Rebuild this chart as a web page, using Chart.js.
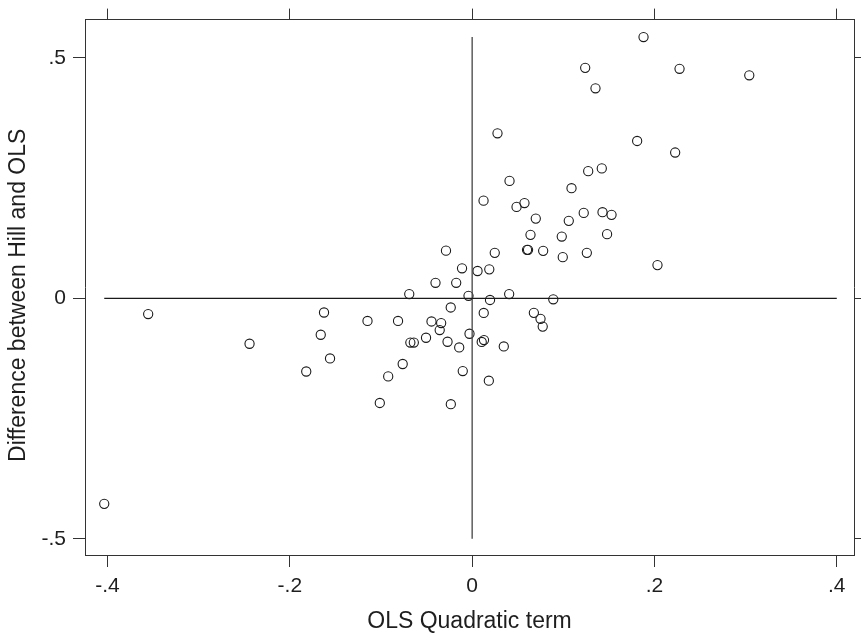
<!DOCTYPE html>
<html>
<head>
<meta charset="utf-8">
<script src="https://cdn.jsdelivr.net/npm/chart.js@4/dist/chart.umd.min.js"></script>
<style>
html,body{margin:0;padding:0;background:#ffffff;}
#wrap{width:861px;height:634px;position:relative;}
</style>
</head>
<body>
<div id="wrap"><canvas id="c" width="861" height="634"></canvas></div>
<script>
// ---- data ----
const xValues = [
  0.188, 0.124, 0.2275, 0.304, 0.1353, 0.0278, 0.181, 0.2227, 0.1422, 0.1273,
  0.041, 0.109, 0.0125, 0.0574, 0.0487, 0.1224, 0.143, 0.1529, 0.0698, 0.106,
  0.064, 0.0983, 0.148, -0.0287, 0.0248, 0.0602, 0.0613, 0.0779, 0.0994, 0.1258,
  0.2033, -0.0111, 0.0059, 0.0188, -0.0402, -0.0175, -0.069, -0.004, 0.0196, 0.0406,
  0.089, -0.3554, -0.1625, -0.0235, 0.0127, 0.0677, 0.075, 0.0774, -0.1148, -0.0813,
  -0.0446, -0.034, -0.0356, -0.1661, -0.0029, -0.0506, -0.0678, -0.064, -0.027, -0.0142,
  0.0105, 0.013, 0.0347, -0.2442, -0.1559, -0.182, -0.0762, -0.0921, -0.0103, 0.0183,
  -0.1013, -0.0234, -0.4036
];
const yValues = [
  0.543, 0.479, 0.477, 0.4635, 0.4365, 0.343, 0.327, 0.303, 0.270, 0.2643,
  0.244, 0.2288, 0.203, 0.198, 0.190, 0.1775, 0.179, 0.1734, 0.1657, 0.161,
  0.1319, 0.1283, 0.1333, 0.099, 0.0945, 0.1007, 0.1007, 0.0986, 0.0855, 0.0945,
  0.069, 0.0623, 0.0567, 0.0602, 0.0322, 0.0322, 0.0087, 0.0052, -0.0035, 0.0087,
  -0.0021, -0.0328, -0.0295, -0.0191, -0.0305, -0.0303, -0.0426, -0.0588, -0.0471, -0.0471,
  -0.0482, -0.0515, -0.066, -0.0758, -0.0737, -0.082, -0.092, -0.092, -0.0903, -0.1022,
  -0.0907, -0.0868, -0.1001, -0.0945, -0.125, -0.1522, -0.1366, -0.1624, -0.1512, -0.1713,
  -0.2176, -0.2201, -0.4273
];
// reference lines (y = 0 and x = 0)
const hLineX = [-0.4036, 0.4];
const vLineY = [-0.5, 0.543];

const xTicks = [-0.4, -0.2, 0, 0.2, 0.4];
const xTickLabels = ['-.4', '-.2', '0', '.2', '.4'];
const yTicks = [-0.5, 0, 0.5];
const yTickLabels = ['-.5', '0', '.5'];

const xTitle = 'OLS Quadratic term';
const yTitle = 'Difference between Hill and OLS';

// ---- presentation ----
const X_MIN = -0.4247, X_MAX = 0.41888;
const Y_MIN = -0.5336, Y_MAX = 0.5793;
const FONT = "'Liberation Sans', Arial, Helvetica, sans-serif";
const INK = '#1e1e1e';

function setTicks(values) {
  return function (scale) { scale.ticks = values.map(v => ({ value: v })); };
}
function labeler(values, labels) {
  return function (v) {
    const i = values.findIndex(t => Math.abs(t - v) < 1e-9);
    return i >= 0 ? labels[i] : '';
  };
}

const points = xValues.map((x, i) => ({ x: x, y: yValues[i] }));

const yTitlePlugin = {
  id: 'yTitlePlugin',
  afterDraw(chart) {
    const ctx = chart.ctx;
    const ca = chart.chartArea;
    ctx.save();
    ctx.translate(18.6, (ca.top + ca.bottom) / 2 + 8);
    ctx.rotate(-Math.PI / 2);
    ctx.font = '23px ' + FONT;
    ctx.fillStyle = INK;
    ctx.textAlign = 'center';
    ctx.textBaseline = 'middle';
    ctx.fillText(yTitle, 0, 0);
    ctx.restore();
  }
};

const gridBase = (len) => ({
  drawOnChartArea: false,
  drawTicks: true,
  tickLength: len,
  color: '#333333',
  lineWidth: 1
});
const borderBase = { display: true, color: '#333333', width: 1 };

new Chart(document.getElementById('c'), {
  type: 'scatter',
  data: {
    datasets: [
      {
        type: 'line',
        data: hLineX.map(x => ({ x: x, y: 0 })),
        borderColor: '#1a1a1a',
        borderWidth: 1.3,
        pointRadius: 0,
        fill: false,
        xAxisID: 'x', yAxisID: 'y'
      },
      {
        type: 'line',
        data: vLineY.map(y => ({ x: 0, y: y })),
        borderColor: '#444444',
        borderWidth: 1.3,
        pointRadius: 0,
        fill: false,
        xAxisID: 'x', yAxisID: 'y'
      },
      {
        data: points,
        pointStyle: 'circle',
        pointRadius: 4.6,
        pointBorderWidth: 1.1,
        borderColor: '#1a1a1a',
        backgroundColor: 'rgba(0,0,0,0)',
        xAxisID: 'x', yAxisID: 'y'
      }
    ]
  },
  options: {
    responsive: false,
    animation: false,
    devicePixelRatio: 1,
    layout: { padding: 0 },
    plugins: { legend: { display: false }, tooltip: { enabled: false }, title: { display: false } },
    scales: {
      x: {
        type: 'linear', position: 'bottom', min: X_MIN, max: X_MAX,
        afterBuildTicks: setTicks(xTicks),
        afterFit: s => { s.height = 79; },
        grid: gridBase(12),
        border: borderBase,
        ticks: {
          color: INK, font: { family: FONT, size: 21 }, padding: 7,
          maxRotation: 0, autoSkip: false,
          callback: labeler(xTicks, xTickLabels)
        },
        title: {
          display: true, text: xTitle, color: INK,
          font: { family: FONT, size: 23, lineHeight: 1.1 },
          padding: { top: 0, bottom: 0 }
        }
      },
      x2: {
        type: 'linear', position: 'top', min: X_MIN, max: X_MAX,
        afterBuildTicks: setTicks(xTicks),
        afterFit: s => { s.height = 19; },
        grid: gridBase(11),
        border: borderBase,
        ticks: { display: false }
      },
      y: {
        type: 'linear', position: 'left', min: Y_MIN, max: Y_MAX,
        afterBuildTicks: setTicks(yTicks),
        afterFit: s => { s.width = 85; },
        grid: gridBase(12),
        border: borderBase,
        ticks: {
          color: INK, font: { family: FONT, size: 21 }, padding: 7,
          autoSkip: false,
          callback: labeler(yTicks, yTickLabels)
        }
      },
      y2: {
        type: 'linear', position: 'right', min: Y_MIN, max: Y_MAX,
        afterBuildTicks: setTicks(yTicks),
        afterFit: s => { s.width = 7; },
        grid: gridBase(12),
        border: borderBase,
        ticks: { display: false }
      }
    }
  },
  plugins: [yTitlePlugin]
});
</script>
</body>
</html>
